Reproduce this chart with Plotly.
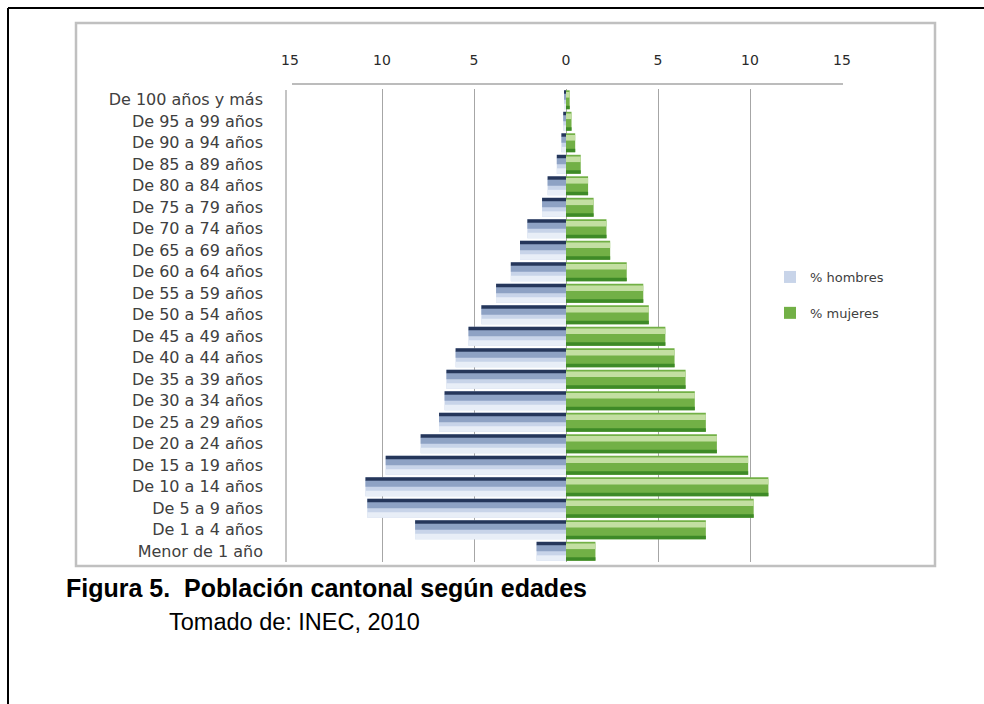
import plotly.graph_objects as go

categories = ["De 100 años y más", "De 95 a 99 años", "De 90 a 94 años", "De 85 a 89 años",
              "De 80 a 84 años", "De 75 a 79 años", "De 70 a 74 años", "De 65 a 69 años",
              "De 60 a 64 años", "De 55 a 59 años", "De 50 a 54 años", "De 45 a 49 años",
              "De 40 a 44 años", "De 35 a 39 años", "De 30 a 34 años", "De 25 a 29 años",
              "De 20 a 24 años", "De 15 a 19 años", "De 10 a 14 años", "De 5 a 9 años",
              "De 1 a 4 años", "Menor de 1 año"]
hombres = [0.1, 0.15, 0.25, 0.5, 1.0, 1.3, 2.1, 2.5, 3.0, 3.8, 4.6, 5.3, 6.0, 6.5, 6.6,
           6.9, 7.9, 9.8, 10.9, 10.8, 8.2, 1.6]
mujeres = [0.2, 0.3, 0.5, 0.8, 1.2, 1.5, 2.2, 2.4, 3.3, 4.2, 4.5, 5.4, 5.9, 6.5, 7.0,
           7.6, 8.2, 9.9, 11.0, 10.2, 7.6, 1.6]
tick_vals = [-15, -10, -5, 0, 5, 10, 15]
tick_text = ["15", "10", "5", "0", "5", "10", "15"]

W, H = 984, 704
L, R, T, B = 290, 842, 89, 562  # plot area in pixels


def px(x):
    return (x - L) / (R - L)


def py(y):
    return (B - y) / (B - T)


neg_h = [-v for v in hombres]
fig = go.Figure()

# hombres: light body with dark top band
fig.add_trace(go.Bar(y=categories, x=neg_h, orientation="h", name="% hombres",
                     marker=dict(color="#C8D4E9", line=dict(width=0)), width=0.88,
                     legendgroup="h"))
fig.add_trace(go.Bar(y=categories, x=neg_h, orientation="h", showlegend=False,
                     marker=dict(color="#8EA2C4", line=dict(width=0)), width=0.3, offset=-0.30,
                     legendgroup="h", hoverinfo="skip"))
fig.add_trace(go.Bar(y=categories, x=neg_h, orientation="h", showlegend=False,
                     marker=dict(color="#25365A", line=dict(width=0)), width=0.16, offset=-0.44,
                     legendgroup="h", hoverinfo="skip"))
fig.add_trace(go.Bar(y=categories, x=neg_h, orientation="h", showlegend=False,
                     marker=dict(color="#E8EEF7", line=dict(width=0)), width=0.25, offset=0.19,
                     legendgroup="h", hoverinfo="skip"))

# mujeres: green body with light top band and dark bottom
fig.add_trace(go.Bar(y=categories, x=mujeres, orientation="h", name="% mujeres",
                     marker=dict(color="#72B046", line=dict(width=0)), width=0.88,
                     legendgroup="m"))
fig.add_trace(go.Bar(y=categories, x=mujeres, orientation="h", showlegend=False,
                     marker=dict(color="#C3DFA2", line=dict(width=0)), width=0.26, offset=-0.36,
                     legendgroup="m", hoverinfo="skip"))
fig.add_trace(go.Bar(y=categories, x=mujeres, orientation="h", showlegend=False,
                     marker=dict(color="#3E8A27", line=dict(width=0)), width=0.16, offset=0.28,
                     legendgroup="m", hoverinfo="skip"))

shapes = []
# outer black frame (top and left)
shapes.append(dict(type="line", xref="paper", yref="paper", x0=px(8), x1=px(990),
                   y0=py(8), y1=py(8), line=dict(color="black", width=2)))
shapes.append(dict(type="line", xref="paper", yref="paper", x0=px(8), x1=px(8),
                   y0=py(8), y1=py(710), line=dict(color="black", width=2)))
# chart frame (grey)
shapes.append(dict(type="rect", xref="paper", yref="paper", x0=px(76), x1=px(935),
                   y0=py(23), y1=py(566), line=dict(color="#C0C0C0", width=2.5)))
# plot wall top & left edge
shapes.append(dict(type="line", xref="paper", yref="paper", x0=px(292), x1=px(843),
                   y0=py(84), y1=py(84), line=dict(color="#A6A6A6", width=1.5)))
shapes.append(dict(type="line", xref="paper", yref="paper", x0=px(286), x1=px(286),
                   y0=py(90), y1=py(562), line=dict(color="#B0B0B0", width=1.5)))

fig.update_layout(
    width=W, height=H,
    margin=dict(l=L, r=W - R, t=T, b=H - B, pad=0),
    paper_bgcolor="white", plot_bgcolor="white",
    barmode="overlay",
    font=dict(family="DejaVu Sans", size=14, color="#404040"),
    showlegend=True,
    legend=dict(x=px(770), y=py(262), xanchor="left", yanchor="top",
                traceorder="grouped", tracegroupgap=16,
                font=dict(family="DejaVu Sans", size=13, color="#404040"),
                bgcolor="rgba(0,0,0,0)", itemwidth=30),
    xaxis=dict(side="top", range=[-15, 15], tickvals=tick_vals, ticktext=tick_text,
               showgrid=True, gridcolor="#A6A6A6", gridwidth=1.2, zeroline=False,
               showline=False, ticks="", ticklabelstandoff=20,
               tickfont=dict(family="DejaVu Sans", size=14, color="#2A2A2A"),
               fixedrange=True),
    yaxis=dict(autorange="reversed", showgrid=False, zeroline=False, showline=False,
               ticks="", ticklabelstandoff=26,
               tickfont=dict(family="DejaVu Sans", size=16, color="#404040")),
    shapes=shapes,
    annotations=[
        dict(text="<b>Figura 5.  Población cantonal según edades</b>", xref="paper",
             yref="paper", x=px(64), y=py(588), xanchor="left", yanchor="middle",
             showarrow=False, font=dict(family="Liberation Sans", size=25, color="black")),
        dict(text="Tomado de: INEC, 2010", xref="paper", yref="paper", x=px(167),
             y=py(622), xanchor="left", yanchor="middle", showarrow=False,
             font=dict(family="Liberation Sans", size=23.5, color="black")),
    ],
)

fig.write_html("out.html", config={"displayModeBar": False},
               post_script="document.body.style.margin='0';")
